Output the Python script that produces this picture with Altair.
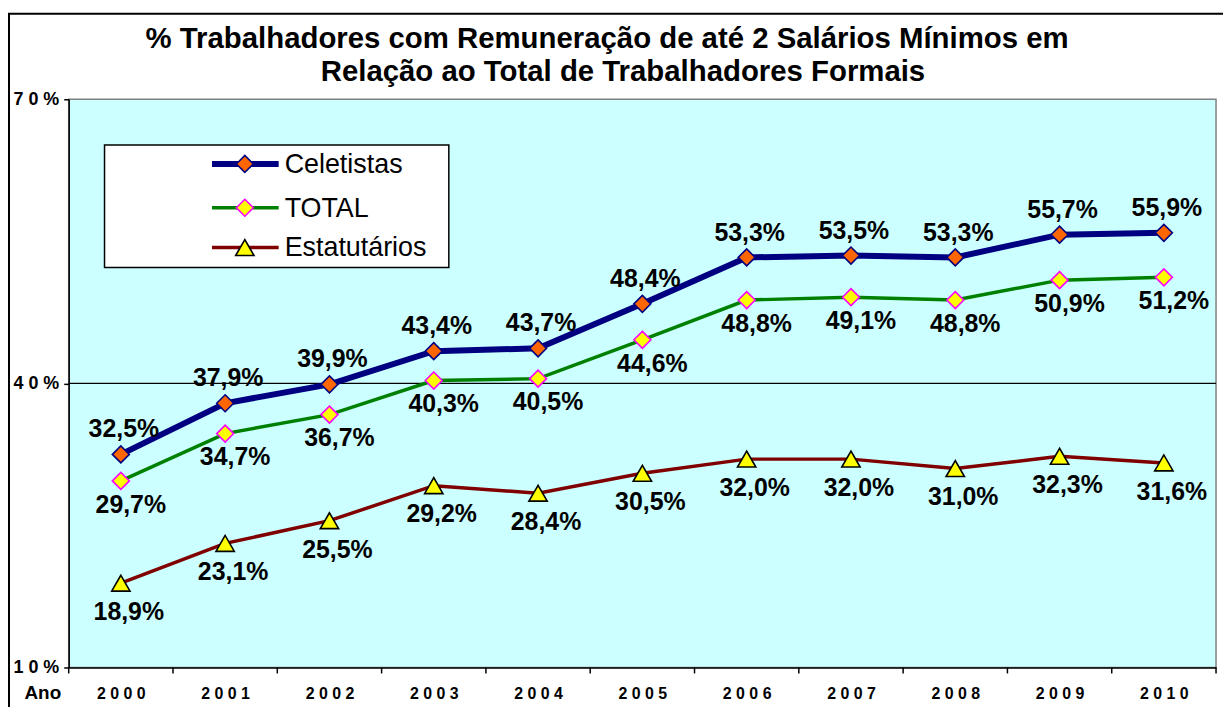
import altair as alt
import pandas as pd

years = [2000, 2001, 2002, 2003, 2004, 2005, 2006, 2007, 2008, 2009, 2010]
celetistas = [32.5, 37.9, 39.9, 43.4, 43.7, 48.4, 53.3, 53.5, 53.3, 55.7, 55.9]
total = [29.7, 34.7, 36.7, 40.3, 40.5, 44.6, 48.8, 49.1, 48.8, 50.9, 51.2]
estatutarios = [18.9, 23.1, 25.5, 29.2, 28.4, 30.5, 32.0, 32.0, 31.0, 32.3, 31.6]
series_names = ["Celetistas", "TOTAL", "Estatutários"]
y_ticks = [10, 40, 70]
title_lines = ["% Trabalhadores com Remuneração de até 2 Salários Mínimos em",
               "Relação ao Total de Trabalhadores Formais"]
x_title = "Ano"

line_colors = ["#000080", "#008000", "#800000"]
line_widths = [6, 3.5, 3.5]
marker_fills = ["#FF6600", "#FFFF00", "#FFFF00"]
marker_strokes = ["#000080", "#FF00FF", "#000000"]
marker_shapes = ["diamond", "diamond", "triangle-up"]
marker_sizes = [290, 290, 340]
label_dy = [-25, 24, 29]
label_dx = [3, 10, 8]

FONT = "Liberation Sans"
W, H = 1153, 571

rows = []
for name, vals in zip(series_names, [celetistas, total, estatutarios]):
    for yr, v in zip(years, vals):
        rows.append({"year": yr, "series": name, "value": v,
                     "label": f"{v:.1f}".replace(".", ",") + "%"})
df = pd.DataFrame(rows)

boundaries = [y - 0.5 for y in years] + [years[-1] + 0.5]
df_bounds = pd.DataFrame({"b": boundaries})

x_scale = alt.Scale(domain=[years[0] - 0.5, years[-1] + 0.5], nice=False, zero=False)
y_scale = alt.Scale(domain=[y_ticks[0], y_ticks[-1]], nice=False, zero=False)

x_axis = alt.Axis(values=years, format="d", ticks=False, grid=False, title=None,
                  domainColor="black", domainWidth=1.5,
                  labelExpr="join(split(datum.label, ''), ' ')",
                  labelFont=FONT, labelFontWeight="bold", labelFontSize=16,
                  labelColor="black", labelPadding=18)
y_axis = alt.Axis(values=y_ticks, format="d", grid=False, title=None,
                  domainColor="black", domainWidth=1.5,
                  tickColor="black", tickSize=5, tickWidth=1.5,
                  labelExpr="join(split(datum.label + '%', ''), ' ')",
                  labelFont=FONT, labelFontWeight="bold", labelFontSize=18,
                  labelColor="black", labelPadding=5)

base = alt.Chart(df)
one = pd.DataFrame({"a": [0]})

layers = []

# axes carrier + gridline at 40
layers.append(
    alt.Chart(pd.DataFrame({"y": [y_ticks[1]]})).mark_rule(color="black", strokeWidth=1.2).encode(
        y=alt.Y("y:Q", scale=y_scale, axis=y_axis)
    )
)

# x tick marks at category boundaries
layers.append(
    alt.Chart(df_bounds).mark_rule(color="black", strokeWidth=1.5).encode(
        x=alt.X("b:Q", scale=x_scale, axis=x_axis),
        y=alt.value(H), y2=alt.value(H + 6)
    )
)

order = [2, 1, 0]
for i in order:
    name = series_names[i]
    layers.append(
        base.transform_filter(alt.datum.series == name).mark_line(
            color=line_colors[i], strokeWidth=line_widths[i]
        ).encode(
            x=alt.X("year:Q", scale=x_scale, axis=x_axis),
            y=alt.Y("value:Q", scale=y_scale, axis=y_axis),
        )
    )
for i in order:
    name = series_names[i]
    layers.append(
        base.transform_filter(alt.datum.series == name).mark_point(
            shape=marker_shapes[i], size=marker_sizes[i], fill=marker_fills[i],
            stroke=marker_strokes[i], strokeWidth=1.6, opacity=1, fillOpacity=1, filled=True
        ).encode(
            x=alt.X("year:Q", scale=x_scale),
            y=alt.Y("value:Q", scale=y_scale),
        )
    )
for i in order:
    name = series_names[i]
    layers.append(
        base.transform_filter(alt.datum.series == name).mark_text(
            font=FONT, fontSize=25, fontWeight="bold", color="black",
            dy=label_dy[i], dx=label_dx[i], align="center", baseline="middle"
        ).encode(
            x=alt.X("year:Q", scale=x_scale),
            y=alt.Y("value:Q", scale=y_scale),
            text="label:N",
        )
    )

# legend
layers.append(
    alt.Chart(one).mark_rect(fill="white", stroke="black", strokeWidth=1.5).encode(
        x=alt.value(36), x2=alt.value(382), y=alt.value(46), y2=alt.value(169)
    )
)
legend_rows = [65, 109, 149]
for i, name in enumerate(series_names):
    ry = legend_rows[i]
    layers.append(
        alt.Chart(one).mark_rule(color=line_colors[i], strokeWidth=line_widths[i]).encode(
            x=alt.value(144), x2=alt.value(211), y=alt.value(ry)
        )
    )
    layers.append(
        alt.Chart(one).mark_point(
            shape=marker_shapes[i], size=marker_sizes[i], fill=marker_fills[i],
            stroke=marker_strokes[i], strokeWidth=1.6, opacity=1, fillOpacity=1, filled=True
        ).encode(x=alt.value(177), y=alt.value(ry))
    )
    layers.append(
        alt.Chart(one).mark_text(
            font=FONT, fontSize=27, color="black", align="left", baseline="middle"
        ).encode(x=alt.value(217), y=alt.value(ry + 1), text=alt.value(name))
    )

# title
title_x = [541, 557]
for j, line in enumerate(title_lines):
    layers.append(
        alt.Chart(one).mark_text(
            font=FONT, fontSize=29.5, fontWeight="bold", color="black",
            align="center", baseline="middle"
        ).encode(x=alt.value(title_x[j]), y=alt.value(-61 + 34 * j), text=alt.value(line))
    )

# "Ano"
layers.append(
    alt.Chart(one).mark_text(
        font=FONT, fontSize=19, fontWeight="bold", color="black",
        align="center", baseline="middle"
    ).encode(x=alt.value(-26), y=alt.value(H + 26), text=alt.value(x_title))
)

# outer border
layers.append(
    alt.Chart(one).mark_rect(fillOpacity=0, stroke="black", strokeWidth=2).encode(
        x=alt.value(-60), x2=alt.value(1300), y=alt.value(-86), y2=alt.value(800)
    )
)

chart = alt.layer(*layers).properties(
    width=W, height=H,
    padding={"left": 61, "top": 90, "right": 7, "bottom": 38},
    autosize=alt.AutoSizeParams(type="none"),
    background="white",
).configure_view(fill="#CCFFFF", stroke="#808080", strokeWidth=1.5)

chart.save("out.html", embed_options={"renderer": "svg", "actions": False})
